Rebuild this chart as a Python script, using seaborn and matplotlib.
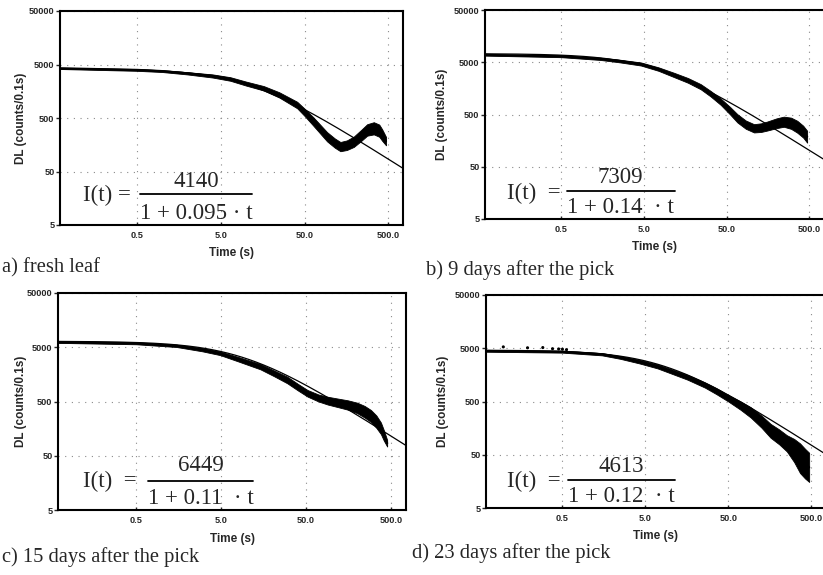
import numpy as np
import pandas as pd
import matplotlib
matplotlib.use("Agg")
import matplotlib.pyplot as plt
from matplotlib.lines import Line2D
import seaborn as sns

sns.set_style("white")
plt.rcParams["font.family"] = ["Liberation Sans", "DejaVu Sans"]

# ---- measured delayed luminescence (band centre and multiplicative half-width) ----
t_a = [0.06, 0.5, 1.0, 2.0, 4.0, 6.5, 10, 16.3, 25, 40.8, 50, 64, 93, 115, 134, 160, 194, 240, 280, 336, 390, 423, 470]
dl_a = [4240, 3960, 3760, 3420, 3050, 2680, 2200, 1795, 1350, 875, 640, 427, 223, 170, 146, 155, 180, 240, 299, 321, 290, 240, 185]
sp_a = [1.03, 1.04, 1.04, 1.05, 1.07, 1.08, 1.09, 1.10, 1.12, 1.15, 1.17, 1.20, 1.22, 1.22, 1.22, 1.23, 1.25, 1.27, 1.28, 1.30, 1.30, 1.28, 1.20]

t_b = [0.06, 0.5, 1.5, 2.5, 4.6, 7.5, 11.6, 17, 24.3, 32, 42.3, 55, 67.3, 85, 107, 130, 155, 200, 245, 300, 356, 420, 469]
dl_b = [6900, 6500, 5800, 5300, 4630, 3700, 2850, 2250, 1700, 1250, 880, 590, 423, 320, 272, 280, 301, 340, 364, 340, 292, 235, 188]
sp_b = [1.03, 1.04, 1.05, 1.06, 1.07, 1.08, 1.10, 1.11, 1.12, 1.13, 1.15, 1.18, 1.20, 1.20, 1.20, 1.21, 1.22, 1.24, 1.25, 1.28, 1.30, 1.30, 1.30]

t_c = [0.06, 0.5, 1.5, 3.0, 4.87, 8.0, 14.5, 21, 30, 40, 52, 70, 90, 120, 155, 200, 244, 290, 336, 380, 410, 450]
dl_c = [6200, 5900, 5300, 4500, 3865, 3000, 2192, 1650, 1246, 920, 708, 580, 518, 470, 431, 380, 324, 270, 212, 160, 120, 85]
sp_c = [1.03, 1.04, 1.05, 1.07, 1.08, 1.10, 1.12, 1.13, 1.15, 1.15, 1.15, 1.16, 1.18, 1.20, 1.22, 1.25, 1.28, 1.29, 1.30, 1.28, 1.25, 1.15]

t_d = [0.06, 0.5, 1.5, 2.5, 4.24, 7.0, 10.5, 16, 26.1, 36, 50, 70, 93, 125, 161, 205, 253, 310, 365, 420, 470]
dl_d = [4435, 4300, 3860, 3350, 2800, 2280, 1815, 1430, 1020, 780, 574, 420, 312, 210, 141, 108, 82, 60, 43, 34, 29]
sp_d = [1.03, 1.04, 1.05, 1.06, 1.08, 1.09, 1.10, 1.11, 1.12, 1.14, 1.15, 1.20, 1.25, 1.30, 1.35, 1.38, 1.42, 1.65, 1.90, 1.90, 1.88]

# isolated early samples lying above the trace in the 23-day record
t_d_pts = [0.097, 0.19, 0.29, 0.38, 0.45, 0.5, 0.56]
dl_d_pts = [5300, 5100, 5150, 4900, 4850, 4800, 4700]

# ---- hyperbolic fit parameters I(t) = I0 / (1 + k t) ----
fit_I0 = [4140, 7309, 6449, 4613]
fit_k = [0.095, 0.14, 0.11, 0.12]
fit_k_text = ["0.095", "0.14", "0.11", "0.12"]

captions = ["a) fresh leaf", "b) 9 days after the pick",
            "c) 15 days after the pick", "d) 23 days after the pick"]

x_ticks = [0.5, 5, 50, 500]
x_ticklabels = ["0.5", "5.0", "50.0", "500.0"]
y_ticks = [5, 50, 500, 5000, 50000]
y_ticklabels = ["5", "50", "500", "5000", "50000"]

series = [(t_a, dl_a, sp_a), (t_b, dl_b, sp_b), (t_c, dl_c, sp_c), (t_d, dl_d, sp_d)]

W, H = 823, 575
fig = plt.figure(figsize=(W / 100, H / 100), dpi=100)

# axes boxes in pixels: left, top, right, bottom
boxes = [(60, 11, 403, 225), (485, 10, 824, 219), (58, 293, 406, 510), (486, 295, 826, 508)]
ylab_x = [-0.096, -0.108, -0.089, -0.110]
caption_pos = [(2, 268), (426, 270), (2, 557), (412, 553)]

# formula layout in axes fractions: I(t) left/y, bar x0/x1/y, numerator y, denominator y
formula = [
    dict(lx=0.067, ly=0.140, x0=0.233, x1=0.560, by=0.145, ny=0.205, dy=0.056, eq="I(t) =", gap=""),
    dict(lx=0.064, ly=0.124, x0=0.241, x1=0.560, by=0.134, ny=0.199, dy=0.055, eq="I(t)  =", gap=" "),
    dict(lx=0.072, ly=0.130, x0=0.259, x1=0.560, by=0.134, ny=0.203, dy=0.054, eq="I(t)  =", gap=" "),
    dict(lx=0.061, ly=0.123, x0=0.241, x1=0.556, by=0.131, ny=0.197, dy=0.053, eq="I(t)  =", gap=" "),
]

serif = ["Liberation Serif", "DejaVu Serif"]
tick_font = dict(family=["Liberation Sans"], size=6.6, weight="bold")

for i, (box, (t, dl, sp)) in enumerate(zip(boxes, series)):
    l, tp, r, b = box
    ax = fig.add_axes([l / W, (H - b) / H, (r - l) / W, (b - tp) / H])
    ax.set_xscale("log")
    ax.set_yscale("log")
    ax.set_xlim(0.06, 750)
    ax.set_ylim(5, 50000)

    t_arr = np.asarray(t, float)
    dl_arr = np.asarray(dl, float)
    sp_arr = np.asarray(sp, float)

    # measured band
    ax.fill_between(t_arr, dl_arr / sp_arr, dl_arr * sp_arr, color="black", lw=0.6,
                    edgecolor="black", zorder=3)
    sns.lineplot(x=t_arr, y=dl_arr, ax=ax, color="black", lw=1.6, zorder=4,
                 estimator=None, sort=False)
    if i == 3:
        sns.scatterplot(x=t_d_pts, y=dl_d_pts, ax=ax, color="black", s=5,
                        edgecolor="none", zorder=4)

    # fitted hyperbola from the stated parameters
    t_fit = np.geomspace(0.06, 750, 300)
    fit_df = pd.DataFrame({"t": t_fit, "I": fit_I0[i] / (1 + fit_k[i] * t_fit)})
    sns.lineplot(data=fit_df, x="t", y="I", ax=ax, color="black", lw=0.9, zorder=5,
                 estimator=None)

    ax.set_xticks(x_ticks)
    ax.set_xticklabels(x_ticklabels, fontdict=tick_font)
    ax.set_yticks(y_ticks)
    ax.set_yticklabels(y_ticklabels, fontdict=tick_font)
    ax.minorticks_off()
    ax.tick_params(axis="x", direction="in", length=2.5, width=1, pad=4, bottom=True)
    ax.tick_params(axis="y", direction="out", length=3, width=1, pad=1, left=True)

    ax.grid(True, which="major", color="#8a8a8a", lw=0.8, linestyle=(0, (1, 5)))
    for s in ax.spines.values():
        s.set_visible(True)
        s.set_color("black")
        s.set_linewidth(1.5)

    ax.set_xlabel("Time (s)", fontsize=8.5, fontweight="bold")
    ax.set_ylabel("DL (counts/0.1s)", fontsize=8.5, fontweight="bold")
    ax.xaxis.set_label_coords(0.5, -0.105)
    ax.yaxis.set_label_coords(ylab_x[i], 0.5)

    # fraction formula
    f = formula[i]
    fs = 16.5
    ax.text(f["lx"], f["ly"], f["eq"], transform=ax.transAxes, family=serif,
            fontsize=fs, ha="left", va="center", zorder=6)
    xc = (f["x0"] + f["x1"]) / 2
    ax.text(xc, f["ny"], str(fit_I0[i]), transform=ax.transAxes, family=serif,
            fontsize=fs, ha="center", va="center", zorder=6)
    ax.text(xc, f["dy"], "1 + " + fit_k_text[i] + f["gap"] + " · t", transform=ax.transAxes,
            family=serif, fontsize=fs, ha="center", va="center", zorder=6)
    ax.add_line(Line2D([f["x0"], f["x1"]], [f["by"], f["by"]], transform=ax.transAxes,
                       color="black", lw=1.3, zorder=6))

    cx, cy = caption_pos[i]
    fig.text(cx / W, 1 - cy / H, captions[i], family=serif, fontsize=14.8,
             ha="left", va="center")

fig.savefig("out.png", dpi=100)
